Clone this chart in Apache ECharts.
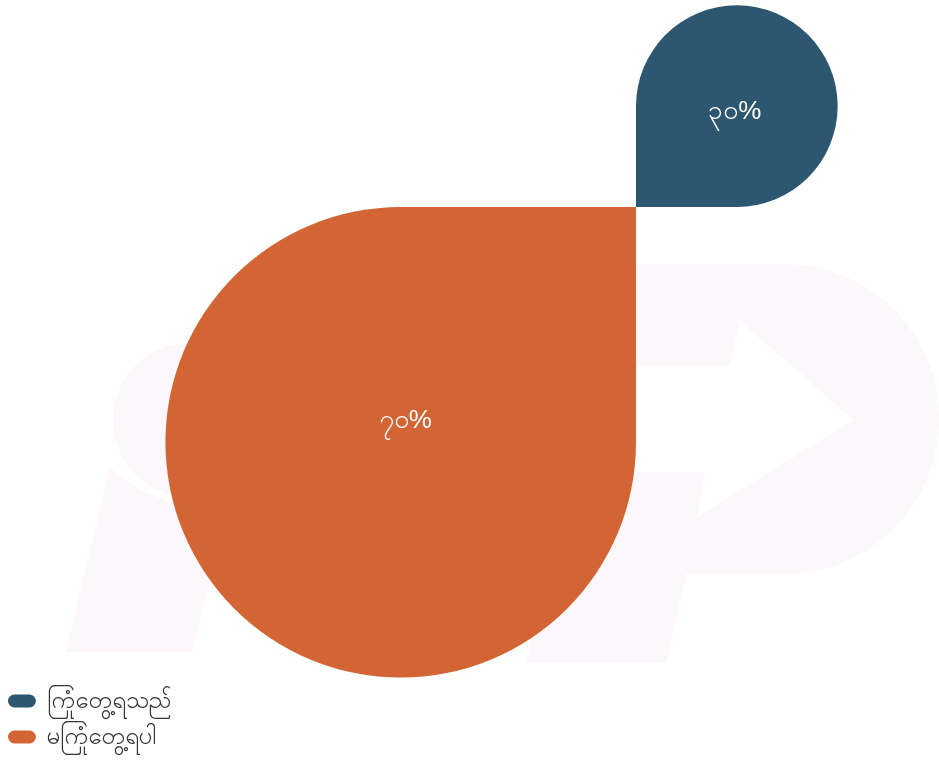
<!DOCTYPE html>
<html>
	<head>
		<meta charset="UTF-8">
		<title></title>
		<script src="https://cdn.jsdelivr.net/npm/echarts@6/dist/echarts.min.js"></script>
	</head>
	<body style="margin:0;background:#fff;">
		<div id="pie_box" style="width:939px;height:760px;"></div>
		<script>
			// 数据
			var names = ['ကြုံတွေ့ရသည်', 'မကြုံတွေ့ရပါ'];
			var values = [30, 70];
			var labels = ['၃၀%', '၇၀%'];
			var colors = ['#2d5670', '#d26533'];

			var pieCenter = [636, 207];

			// 玫瑰图每块 90°，空白块占位
			var pieData = [];
			for (var i = 0; i < names.length; i++) {
				pieData.push({
					name: names[i],
					value: values[i],
					label: { formatter: labels[i] },
					itemStyle: { color: colors[i] }
				});
				pieData.push({
					name: 'gap' + i,
					value: 0,
					label: { show: false },
					itemStyle: { color: 'transparent' },
					tooltip: { show: false }
				});
			}

			var wm = '#fcf7fa';
			var option = {
				backgroundColor: '#fff',
				graphic: [
					// 背景水印
					{ type: 'polygon', z: -10, shape: { points: [[110,468],[140,490],[172,503],[215,560],[192,652],[66,652]] }, style: { fill: wm } },
					{ type: 'circle', z: -10, shape: { cx: 190, cy: 420, r: 77 }, style: { fill: wm } },
					{ type: 'polygon', z: -10, shape: { points: [[600,264],[785,264],[785,574],[686,574],[666,663],[526,663],[560,520]] }, style: { fill: wm } },
					{ type: 'sector', z: -10, shape: { cx: 784, cy: 419, r: 155, startAngle: -Math.PI / 2, endAngle: Math.PI / 2 }, style: { fill: wm } },
					{ type: 'polygon', z: -9, shape: { points: [[739,320],[854,420],[697,517],[705,472],[600,472],[600,365],[730,365]] }, style: { fill: '#fff' } }
				],
				tooltip: { trigger: 'item' },
				legend: {
					data: names,
					orient: 'vertical',
					left: 3,
					bottom: 6,
					icon: 'path://M7,0 L23,0 A7,7 0 0 1 23,14 L7,14 A7,7 0 0 1 7,0 Z',
					itemWidth: 30,
					itemHeight: 13,
					itemGap: 12,
					textStyle: { fontSize: 24, color: '#333', padding: [0, 0, 0, 5] }
				},
				series: [{
					type: 'pie',
					roseType: 'area',
					startAngle: 90,
					center: pieCenter,
					radius: [0, 568],
					itemStyle: { borderRadius: '50%' },
					label: {
						show: true,
						position: 'inside',
						color: '#fff',
						fontSize: 26
					},
					labelLine: { show: false },
					// 标签放在扇形包围盒内靠近圆心一侧
					labelLayout: function (p) {
						var r = p.rect;
						var nearLeft = Math.abs(r.x - pieCenter[0]) < 1;
						var nearTop = Math.abs(r.y - pieCenter[1]) < 1;
						var fx = 0.49, fy = 0.455;
						return {
							x: nearLeft ? r.x + r.width * fx : r.x + r.width * (1 - fx),
							y: nearTop ? r.y + r.height * fy : r.y + r.height * (1 - fy) - 3,
							align: 'center',
							verticalAlign: 'middle'
						};
					},
					data: pieData
				}]
			};

			var myChart = echarts.init(document.getElementById('pie_box'));
			myChart.setOption(option);
		</script>
	</body>
</html>
